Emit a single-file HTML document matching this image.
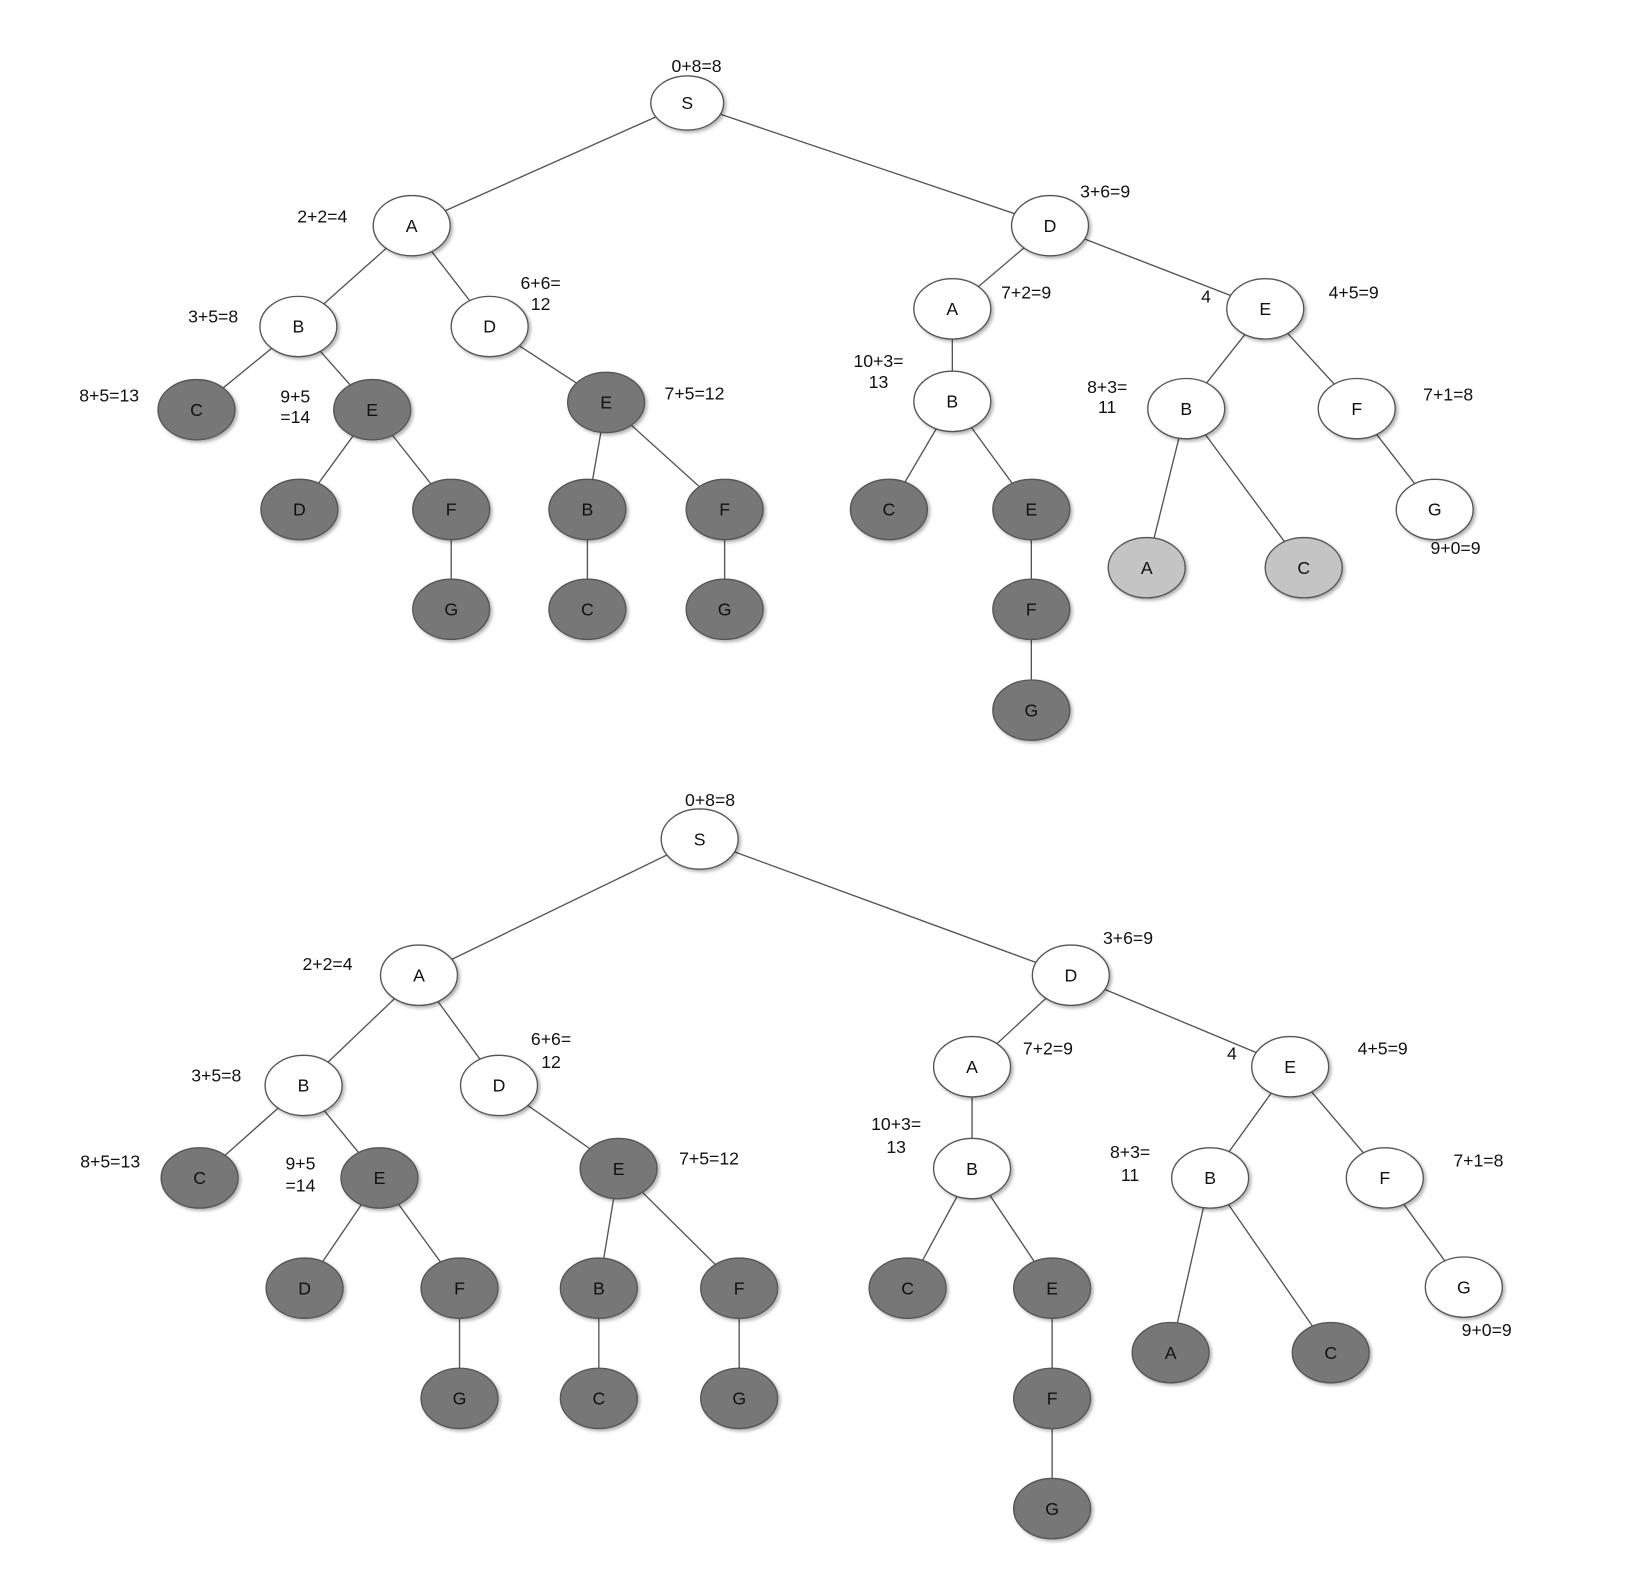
<!DOCTYPE html>
<html><head><meta charset="utf-8"><style>
html,body{margin:0;padding:0;background:#fff;}
svg{display:block;}
text{font-family:"Liberation Sans",Arial,sans-serif;fill:#111;}
</style></head><body>
<svg id="s" width="1626" height="1570" viewBox="0 0 1564 1510" xmlns="http://www.w3.org/2000/svg">
<defs><filter id="sh" x="-20%" y="-20%" width="150%" height="150%"><feDropShadow dx="2" dy="2" stdDeviation="1.5" flood-color="#000" flood-opacity="0.3"/></filter></defs>
<g id="edges" stroke="#555" stroke-width="1.3"></g>
<g id="nodes"></g>
<g id="labels" font-size="17"></g>
</svg>
<script>
const W='#fff',G='#777',L='#c4c4c4';
const trees=[
{n:{S:[661,99,W,'S',35,26],A:[396,217,W,'A'],D:[1010,217,W,'D'],B:[287,314,W,'B'],D2:[471,314,W,'D'],
C:[189,394,G,'C'],E:[358,394,G,'E'],E2:[583,387,G,'E'],D3:[288,490,G,'D'],F:[434,490,G,'F'],G:[434,586,G,'G'],
B2:[565,490,G,'B'],F2:[697,490,G,'F'],C2:[565,586,G,'C'],G2:[697,586,G,'G'],
RA:[916,297,W,'A'],RE:[1217,297,W,'E'],RB:[916,386,W,'B'],RC:[855,490,G,'C'],RE2:[992,490,G,'E'],RF:[992,586,G,'F'],RG:[992,683,G,'G'],
RB2:[1141,393,W,'B'],RF2:[1305,393,W,'F'],RG2:[1380,490,W,'G'],RA2:[1103,546,L,'A'],RC2:[1254,546,L,'C']},
l:[['0+8=8',670,69],['2+2=4',310,214],['3+6=9',1063,190],['3+5=8',205,310],['6+6=',520,278],['12',520,298],['8+5=13',105,386],
['9+5',284,387],['=14',284,407],['7+5=12',668,384],['7+2=9',987,287],['4',1160,291],['4+5=9',1302,287],['10+3=',845,353],['13',845,373],
['8+3=',1065,378],['11',1065,397],['7+1=8',1393,385],['9+0=9',1400,533]]},
{n:{S:[673,807,W,'S'],A:[403,938,W,'A'],D:[1030,938,W,'D'],B:[292,1044,W,'B'],D2:[480,1044,W,'D'],
C:[192,1133,G,'C'],E:[365,1133,G,'E'],E2:[595,1124,G,'E'],D3:[293,1239,G,'D'],F:[442,1239,G,'F'],G:[442,1345,G,'G'],
B2:[576,1239,G,'B'],F2:[711,1239,G,'F'],C2:[576,1345,G,'C'],G2:[711,1345,G,'G'],
RA:[935,1026,W,'A'],RE:[1241,1026,W,'E'],RB:[935,1124,W,'B'],RC:[873,1239,G,'C'],RE2:[1012,1239,G,'E'],RF:[1012,1345,G,'F'],RG:[1012,1451,G,'G'],
RB2:[1164,1133,W,'B'],RF2:[1332,1133,W,'F'],RG2:[1408,1238,W,'G'],RA2:[1126,1301,G,'A'],RC2:[1280,1301,G,'C']},
l:[['0+8=8',683,775],['2+2=4',315,933],['3+6=9',1085,908],['3+5=8',208,1040],['6+6=',530,1005],['12',530,1027],['8+5=13',106,1123],
['9+5',289,1125],['=14',289,1146],['7+5=12',682,1120],['7+2=9',1008,1014],['4',1185,1019],['4+5=9',1330,1014],['10+3=',862,1087],['13',862,1109],
['8+3=',1087,1114],['11',1087,1136],['7+1=8',1422,1122],['9+0=9',1430,1285]]}];
const E=[['S','A'],['S','D'],['A','B'],['A','D2'],['B','C'],['B','E'],['D2','E2'],['E','D3'],['E','F'],['F','G'],['E2','B2'],['E2','F2'],['B2','C2'],['F2','G2'],
['D','RA'],['D','RE'],['RA','RB'],['RB','RC'],['RB','RE2'],['RE2','RF'],['RF','RG'],['RE','RB2'],['RE','RF2'],['RF2','RG2'],['RB2','RA2'],['RB2','RC2']];
const ns='http://www.w3.org/2000/svg';
function mk(t,a,p,txt){const e=document.createElementNS(ns,t);for(const k in a)e.setAttribute(k,a[k]);if(txt)e.textContent=txt;document.getElementById(p).appendChild(e);}
trees.forEach(t=>{
E.forEach(([a,b])=>{const p=t.n[a],q=t.n[b];mk('line',{x1:p[0],y1:p[1],x2:q[0],y2:q[1]},'edges');});
for(const k in t.n){const [x,y,f,lab,rx,ry]=t.n[k];
mk('ellipse',{cx:x,cy:y,rx:rx||37,ry:ry||29,fill:f,stroke:'#555','stroke-width':1.3,filter:'url(#sh)'},'nodes');
mk('text',{x:x,y:y+6,'text-anchor':'middle','font-size':17},'nodes',lab);}
t.l.forEach(([s,x,y])=>mk('text',{x:x,y:y,'text-anchor':'middle'},'labels',s));
});
</script>
</body></html>
